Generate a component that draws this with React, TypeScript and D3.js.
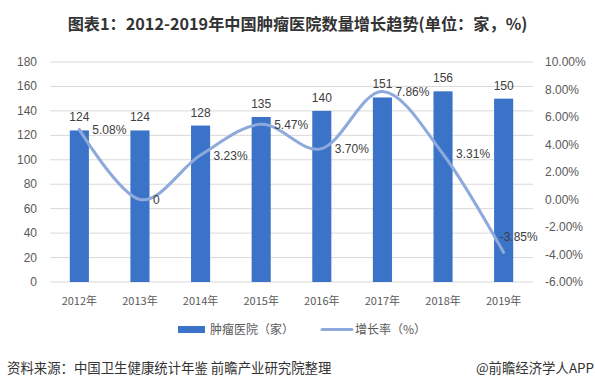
import React from "react";
import * as d3 from "d3";

const categories = ["2012年", "2013年", "2014年", "2015年", "2016年", "2017年", "2018年", "2019年"];
const hospitals = [124, 124, 128, 135, 140, 151, 156, 150];
const growth = [5.08, 0, 3.23, 5.47, 3.70, 7.86, 3.31, -3.85];
const growthLabels = ["5.08%", "0", "3.23%", "5.47%", "3.70%", "7.86%", "3.31%", "-3.85%"];
const leftTicks = [0, 20, 40, 60, 80, 100, 120, 140, 160, 180];
const rightTicks = [-6, -4, -2, 0, 2, 4, 6, 8, 10];

const W = 595, H = 386;
const FONT = "'Liberation Sans', 'Noto Sans CJK SC', sans-serif";
const CJK = "'Noto Sans CJK SC', 'Liberation Sans', sans-serif";
const GREY = "#595959";

export default function App() {
  const x = d3.scaleBand<string>().domain(categories).range([49.2, 533.8]).paddingInner(0.685).paddingOuter(0.34);
  const yL = d3.scaleLinear().domain([0, 180]).range([282, 62]);
  const yR = d3.scaleLinear().domain([-6, 10]).range([282, 62]);
  const cx = (c: string) => (x(c) as number) + x.bandwidth() / 2;
  const line = d3.line<number>().x((_, i) => cx(categories[i])).y((d) => yR(d)).curve(d3.curveCardinal.tension(0));

  return (
    <svg width={W} height={H} style={{ position: "absolute", left: 0, top: 0, background: "#fff" }}>
      <rect width={W} height={H} fill="#fff" />
      <text x={297.5} y={29.5} textAnchor="middle" fontFamily={CJK} fontWeight="bold" fontSize={16.2} fill="#333">
        图表1：2012-2019年中国肿瘤医院数量增长趋势(单位：家，%)
      </text>
      {leftTicks.map((t) => (
        <g key={t}>
          <line x1={50} x2={533} y1={yL(t)} y2={yL(t)} stroke="#d9d9d9" strokeWidth={1} />
          <text x={37} y={yL(t) + 4} textAnchor="end" fontFamily={FONT} fontSize={12} fill={GREY}>{t}</text>
        </g>
      ))}
      {rightTicks.map((t) => (
        <text key={t} x={545} y={yR(t) + 4} fontFamily={FONT} fontSize={12} fill={GREY}>{t.toFixed(2) + "%"}</text>
      ))}
      {hospitals.map((v, i) => (
        <g key={i}>
          <rect x={x(categories[i])} y={yL(v)} width={x.bandwidth()} height={yL(0) - yL(v)} fill="#3a73c7" />
          <text x={cx(categories[i])} y={yL(v) - 9} textAnchor="middle" fontFamily={FONT} fontSize={12} fill="#404040">{v}</text>
        </g>
      ))}
      <path d={line(growth) || ""} fill="none" stroke="#8eaadc" strokeWidth={3} strokeLinecap="round" />
      {growth.map((v, i) => {
        const last = i === growth.length - 1;
        const px = cx(categories[i]) + (last ? -4 : 13);
        const py = yR(v) + (last ? -11 : 4.5);
        return (
          <text key={i} x={px} y={py} fontFamily={FONT} fontSize={12} fill="#404040">{growthLabels[i]}</text>
        );
      })}
      {categories.map((c) => (
        <text key={c} x={cx(c)} y={305} textAnchor="middle" fontFamily={CJK} fontSize={11} fill={GREY}>{c}</text>
      ))}
      <rect x={178} y={326} width={27} height={7} fill="#3a73c7" />
      <text x={210} y={334} fontFamily={CJK} fontSize={12} fill={GREY}>肿瘤医院（家）</text>
      <line x1={322} x2={352} y1={329.5} y2={329.5} stroke="#8eaadc" strokeWidth={3} strokeLinecap="round" />
      <text x={355} y={334} fontFamily={CJK} fontSize={12} fill={GREY}>增长率（%）</text>
      <text x={7} y={373} fontFamily={CJK} fontSize={13.4} fill="#333">资料来源：中国卫生健康统计年鉴 前瞻产业研究院整理</text>
      <text x={594} y={373} textAnchor="end" fontFamily={CJK} fontSize={13.4} fill="#333">@前瞻经济学人APP</text>
    </svg>
  );
}
